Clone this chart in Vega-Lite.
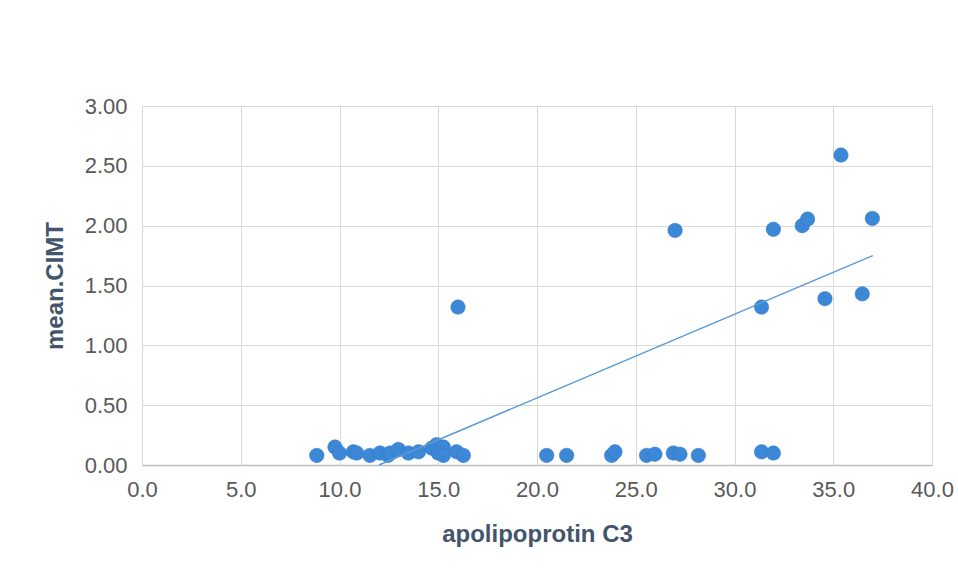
{
  "$schema": "https://vega.github.io/schema/vega-lite/v6.json",
  "width": 790,
  "height": 359,
  "autosize": {"type": "none"},
  "padding": {"left": 142, "top": 106, "right": 26, "bottom": 115},
  "background": "white",
  "config": {
    "view": {"stroke": null},
    "font": "Liberation Sans",
    "axis": {
      "gridColor": "#D9D9D9",
      "gridWidth": 1,
      "ticks": false,
      "labelFlush": false,
      "labelFont": "Liberation Sans",
      "labelFontSize": 22,
      "labelColor": "#595959",
      "titleFont": "Liberation Sans",
      "titleFontSize": 24,
      "titleFontWeight": "bold",
      "titleColor": "#44546A"
    }
  },
  "layer": [
    {
      "data": {
        "values": [
          {"apoC3": 8.85, "cimt": 0.08},
          {"apoC3": 9.77, "cimt": 0.15},
          {"apoC3": 10.0, "cimt": 0.10},
          {"apoC3": 10.7, "cimt": 0.11},
          {"apoC3": 10.87, "cimt": 0.10},
          {"apoC3": 11.54, "cimt": 0.08},
          {"apoC3": 12.05, "cimt": 0.10},
          {"apoC3": 12.46, "cimt": 0.08},
          {"apoC3": 12.56, "cimt": 0.10},
          {"apoC3": 12.98, "cimt": 0.13},
          {"apoC3": 13.49, "cimt": 0.10},
          {"apoC3": 14.0, "cimt": 0.11},
          {"apoC3": 14.67, "cimt": 0.14},
          {"apoC3": 14.92, "cimt": 0.17},
          {"apoC3": 15.0, "cimt": 0.10},
          {"apoC3": 15.26, "cimt": 0.15},
          {"apoC3": 15.26, "cimt": 0.08},
          {"apoC3": 15.93, "cimt": 0.11},
          {"apoC3": 16.27, "cimt": 0.08},
          {"apoC3": 16.0, "cimt": 1.32},
          {"apoC3": 20.49, "cimt": 0.08},
          {"apoC3": 21.5, "cimt": 0.08},
          {"apoC3": 23.78, "cimt": 0.08},
          {"apoC3": 23.95, "cimt": 0.11},
          {"apoC3": 25.55, "cimt": 0.08},
          {"apoC3": 25.97, "cimt": 0.09},
          {"apoC3": 26.9, "cimt": 0.10},
          {"apoC3": 27.24, "cimt": 0.09},
          {"apoC3": 28.17, "cimt": 0.08},
          {"apoC3": 31.37, "cimt": 0.11},
          {"apoC3": 31.97, "cimt": 0.10},
          {"apoC3": 26.99, "cimt": 1.96},
          {"apoC3": 31.97, "cimt": 1.97},
          {"apoC3": 33.43, "cimt": 2.00},
          {"apoC3": 33.7, "cimt": 2.055},
          {"apoC3": 35.39, "cimt": 2.59},
          {"apoC3": 36.98, "cimt": 2.06},
          {"apoC3": 31.37, "cimt": 1.32},
          {"apoC3": 34.58, "cimt": 1.39},
          {"apoC3": 36.47, "cimt": 1.43}
        ]
      },
      "mark": {"type": "point", "filled": true, "opacity": 1, "size": 210, "color": "#3C88D6", "stroke": "#2F78C4", "strokeWidth": 0.5},
      "encoding": {
        "x": {
          "field": "apoC3", "type": "quantitative",
          "scale": {"domain": [0, 40], "nice": false, "zero": false},
          "axis": {"values": [0, 5, 10, 15, 20, 25, 30, 35, 40], "format": ".1f", "title": "apolipoprotin C3", "labelPadding": 14, "titlePadding": 22, "domain": true, "domainColor": "#BFBFBF", "domainWidth": 1.5}
        },
        "y": {
          "field": "cimt", "type": "quantitative",
          "scale": {"domain": [0, 3], "nice": false},
          "axis": {"values": [0, 0.5, 1, 1.5, 2, 2.5, 3], "format": ".2f", "title": "mean.CIMT", "labelPadding": 15, "titlePadding": 17, "domain": false}
        }
      }
    },
    {
      "data": {
        "values": [
          {"apoC3": 12.0, "cimt": 0.0},
          {"apoC3": 37.0, "cimt": 1.75}
        ]
      },
      "mark": {"type": "line", "color": "#5B9BD5", "strokeWidth": 1.5},
      "encoding": {
        "x": {"field": "apoC3", "type": "quantitative"},
        "y": {"field": "cimt", "type": "quantitative"}
      }
    }
  ]
}
